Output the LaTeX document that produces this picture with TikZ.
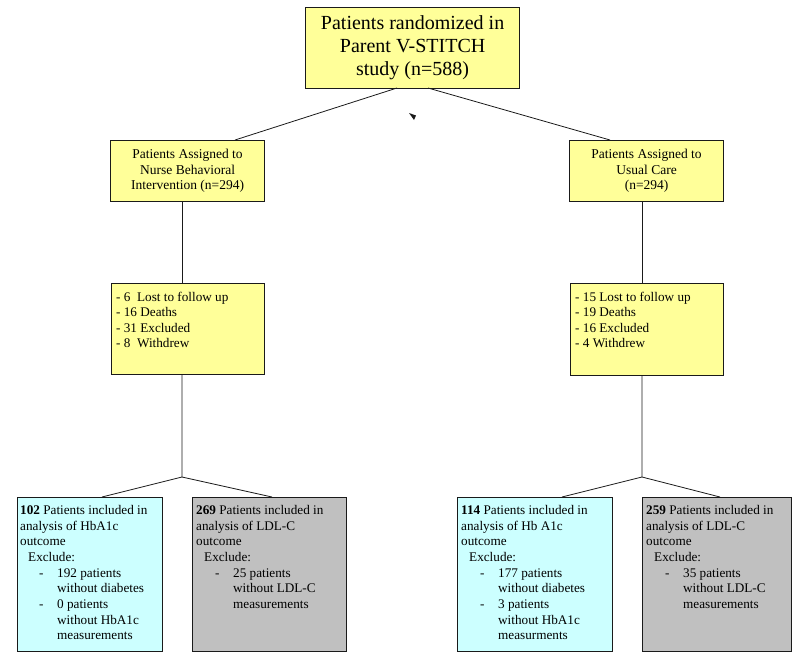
\documentclass[tikz,border=0pt]{standalone}
\usepackage{fontspec}
\setmainfont{Liberation Serif}
\usetikzlibrary{calc}
\definecolor{boxyellow}{HTML}{FFFF99}
\definecolor{boxcyan}{HTML}{CCFFFF}
\definecolor{boxgray}{HTML}{C0C0C0}
\definecolor{edgec}{HTML}{1A1A1A}
\tikzset{
  basebox/.style={draw=edgec, line width=1.2pt, inner sep=0pt, anchor=north west},
  ybox/.style={basebox, fill=boxyellow},
  cbox/.style={basebox, fill=boxcyan},
  gbox/.style={basebox, fill=boxgray},
  midtext/.style={font=\fontsize{13.5}{15.5}\selectfont, align=center, inner sep=0pt},
  listtext/.style={font=\fontsize{13.2}{15.4}\selectfont, align=left, inner sep=0pt, anchor=north west},
  bottext/.style={font=\fontsize{13.2}{15.7}\selectfont, align=left, inner sep=0pt, anchor=north west},
  conn/.style={draw=edgec, line width=0.8pt},
}
\newcommand{\dashitem}[1]{\makebox[37pt][l]{\hspace{19pt}-}#1}
\newcommand{\contitem}[1]{\hspace*{37pt}#1}
\begin{document}
\begin{tikzpicture}[x=1pt,y=-1pt]
\useasboundingbox (0,0) rectangle (800,657);
\fill[white] (0,0) rectangle (800,657);

% top box
\node[ybox, minimum width=214pt, minimum height=81pt] (top) at (305,7) {};
\node[font=\fontsize{20}{23}\selectfont, align=center, inner sep=0pt] (toptext) at (top.center)
  {Patients randomized in\\Parent V-STITCH\\study (n=588)};

% middle boxes
\node[ybox, minimum width=154pt, minimum height=61pt] (nurse) at (110,140) {};
\node[midtext] (nursetext) at (nurse.center) {Patients Assigned to\\Nurse Behavioral\\Intervention (n=294)};
\node[ybox, minimum width=154pt, minimum height=61pt] (usual) at (569,140) {};
\node[midtext] (usualtext) at (usual.center) {Patients Assigned to\\Usual Care\\(n=294)};

% loss boxes
\node[ybox, minimum width=153pt, minimum height=91pt] (lossl) at (111,283) {};
\node[listtext] (losslt) at (116,292) {- 6\ \ Lost to follow up\\- 16 Deaths\\- 31 Excluded\\- 8\ \ Withdrew};
\node[ybox, minimum width=153pt, minimum height=92pt] (lossr) at (570,283) {};
\node[listtext] (lossrt) at (575,292) {- 15 Lost to follow up\\- 19 Deaths\\- 16 Excluded\\- 4 Withdrew};

% bottom boxes
\node[cbox, minimum width=145pt, minimum height=154pt] (ba) at (17,497) {};
\node[bottext] (bat) at (20,505) {\textbf{102} Patients included in\\analysis of HbA1c\\outcome\\\hspace*{8pt}Exclude:\\\dashitem{192 patients}\\\contitem{without diabetes}\\\dashitem{0 patients}\\\contitem{without HbA1c}\\\contitem{measurements}};

\node[gbox, minimum width=154pt, minimum height=154pt] (bb) at (192,497) {};
\node[bottext] (bbt) at (196,505) {\textbf{269} Patients included in\\analysis of LDL-C\\outcome\\\hspace*{8pt}Exclude:\\\dashitem{25 patients}\\\contitem{without LDL-C}\\\contitem{measurements}};

\node[cbox, minimum width=155pt, minimum height=154pt] (bc) at (457,497) {};
\node[bottext] (bct) at (461,505) {\textbf{114} Patients included in\\analysis of Hb A1c\\outcome\\\hspace*{8pt}Exclude:\\\dashitem{177 patients}\\\contitem{without diabetes}\\\dashitem{3 patients}\\\contitem{without HbA1c}\\\contitem{measurments}};

\node[gbox, minimum width=149pt, minimum height=154pt] (bd) at (642,497) {};
\node[bottext] (bdt) at (646,505) {\textbf{259} Patients included in\\analysis of LDL-C\\outcome\\\hspace*{8pt}Exclude:\\\dashitem{35 patients}\\\contitem{without LDL-C}\\\contitem{measurements}};

% connectors
\coordinate (tL) at (397,88);
\coordinate (tR) at (428,88);
\coordinate (nIn) at (235,140);
\coordinate (uIn) at (610,140);
\draw[conn] (tL) -- (nIn);
\draw[conn] (tR) -- (uIn);

\coordinate (nOut) at (182,201);
\coordinate (lIn) at (182,283);
\draw[conn] (nOut) -- (lIn);
\coordinate (uOut) at (642,201);
\coordinate (rIn) at (642,283);
\draw[conn] (uOut) -- (rIn);

\coordinate (lOut) at (182,374);
\coordinate (lSplit) at (182,477);
\coordinate (baIn) at (102,497);
\coordinate (bbIn) at (272,497);
\draw[conn] (lOut) -- (lSplit) -- (baIn);
\draw[conn] (lSplit) -- (bbIn);

\coordinate (rOut) at (642,375);
\coordinate (rSplit) at (642,477);
\coordinate (bcIn) at (562,497);
\coordinate (bdIn) at (720,497);
\draw[conn] (rOut) -- (rSplit) -- (bcIn);
\draw[conn] (rSplit) -- (bdIn);

% small stray arrowhead
\fill[edgec] (409,113) -- (416,115.5) -- (414,120) -- cycle;
\end{tikzpicture}
\end{document}
